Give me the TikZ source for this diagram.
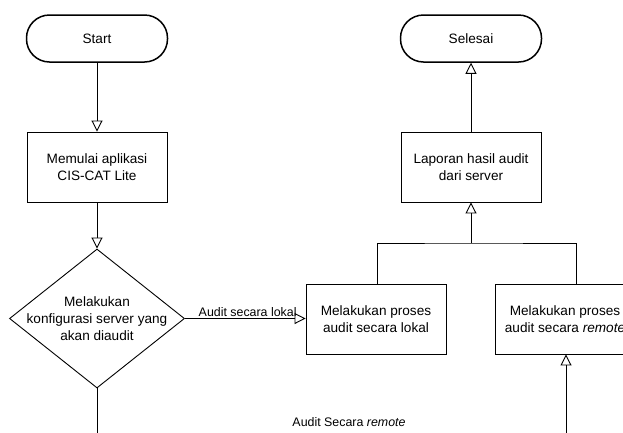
\documentclass[tikz,border=0pt]{standalone}
\usepackage{fontspec}
\setmainfont{Liberation Sans}
\usetikzlibrary{arrows.meta,shapes.geometric,calc}
\begin{document}
\begin{tikzpicture}[x=1pt,y=-1pt,
  every node/.style={font=\fontsize{13.6}{17}\selectfont},
  terminal/.style={draw, line width=1.5pt, rounded corners=23pt, minimum width=141pt, minimum height=47pt, inner sep=0pt},
  procbox/.style={draw, line width=0.9pt, minimum width=140pt, minimum height=70pt, inner sep=0pt, align=center},
  decision/.style={draw, line width=0.9pt, diamond, minimum width=175pt, minimum height=139pt, inner sep=0pt},
  conn/.style={line width=0.9pt},
  arr/.style={conn, -{Triangle[open, length=11pt, width=11pt, line width=0.9pt]}},
  lbl/.style={font=\fontsize{12.4}{15}\selectfont, inner sep=1pt}
]
\useasboundingbox (0,0) rectangle (623,432);
\clip (0,0) rectangle (623,432);

\node[terminal] (start) at (97,38.5) {Start};
\node[procbox] (mulai) at (97,167) {Memulai aplikasi\\CIS-CAT Lite};
\node[decision] (dec) at (97,318.5) {};
\node[align=center] at (dec) {Melakukan\\konfigurasi server yang\\akan diaudit};
\node[procbox] (lokal) at (376,319) {Melakukan proses\\audit secara lokal};
\node[procbox] (remote) at (565,319) {Melakukan proses\\audit secara \textit{remote}};
\node[procbox] (lapor) at (471,167) {Laporan hasil audit\\dari server};
\node[terminal] (selesai) at (471,38.5) {Selesai};

\coordinate (bl) at (97,445);
\coordinate (br) at (566,445);
\coordinate (join) at (471,243);
\coordinate (rtop) at ([xshift=11pt]remote.north);

\draw[arr] (start) -- (mulai);
\draw[arr] (mulai) -- (dec);
\draw[arr] (dec.east) -- node[lbl, above, pos=0.52] {Audit secara lokal} (dec.east -| lokal.west);
\draw[conn] (dec.south) -- (bl);
\draw[arr] (br) -- (br |- remote.south);
\draw[conn] (lokal.north -| 377,0) |- (join) -| (rtop);
\draw[arr] (join) -- (lapor.south);
\draw[arr] (lapor) -- (selesai);

\node[lbl] (remlbl) at (349,422) {Audit Secara \textit{remote}};
\end{tikzpicture}
\end{document}
